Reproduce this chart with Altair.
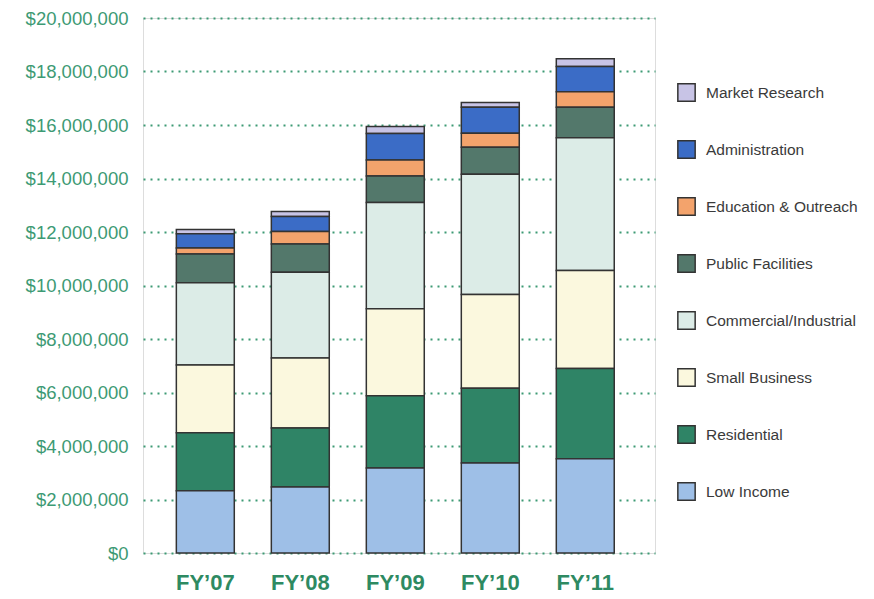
import altair as alt
import pandas as pd

# Fiscal years on the x axis
years = ["FY’07", "FY’08", "FY’09", "FY’10", "FY’11"]

# Program categories, listed top of legend first
categories = [
    "Market Research",
    "Administration",
    "Education & Outreach",
    "Public Facilities",
    "Commercial/Industrial",
    "Small Business",
    "Residential",
    "Low Income",
]

# Spending per category and year, in dollars
market_research = [160000, 190000, 260000, 180000, 290000]
administration = [530000, 560000, 990000, 970000, 950000]
education_outreach = [220000, 470000, 600000, 520000, 580000]
public_facilities = [1080000, 1050000, 990000, 1010000, 1140000]
commercial_industrial = [3070000, 3210000, 3970000, 4500000, 4960000]
small_business = [2530000, 2620000, 3250000, 3500000, 3660000]
residential = [2170000, 2200000, 2700000, 2800000, 3380000]
low_income = [2330000, 2470000, 3180000, 3360000, 3520000]

colors = [
    "#c8c4e6",  # Market Research
    "#3b6cc6",  # Administration
    "#f3a36c",  # Education & Outreach
    "#53786b",  # Public Facilities
    "#dcece7",  # Commercial/Industrial
    "#fbf8de",  # Small Business
    "#2f8466",  # Residential
    "#9ebfe7",  # Low Income
]

series = [
    market_research,
    administration,
    education_outreach,
    public_facilities,
    commercial_industrial,
    small_business,
    residential,
    low_income,
]

rows = []
for rank, (cat, vals) in enumerate(zip(categories, series)):
    for yr, v in zip(years, vals):
        # stack from the bottom: Low Income first
        rows.append({"Year": yr, "Category": cat, "Amount": v,
                     "stack": len(categories) - rank})
df = pd.DataFrame(rows)

green = "#3d9a74"

chart = (
    alt.Chart(df)
    .mark_bar(stroke="#333333", strokeWidth=1.5)
    .encode(
        x=alt.X(
            "Year:N",
            sort=years,
            title=None,
            scale=alt.Scale(paddingInner=0.39, paddingOuter=0.39, align=0.45),
            axis=alt.Axis(
                labelAngle=0,
                labelFont="Liberation Sans",
                labelFontSize=22,
                labelFontWeight="bold",
                labelColor="#2e8a62",
                labelPadding=19,
                ticks=False,
                domain=False,
            ),
        ),
        y=alt.Y(
            "Amount:Q",
            stack="zero",
            title=None,
            scale=alt.Scale(domain=[0, 20000000]),
            axis=alt.Axis(
                values=list(range(0, 20000001, 2000000)),
                format="$,.0f",
                labelFont="Liberation Sans",
                labelFontSize=18.5,
                labelColor=green,
                labelPadding=15,
                ticks=False,
                domain=False,
                grid=True,
                gridColor=green,
                gridDash=[2, 5],
                gridWidth=2,
            ),
        ),
        color=alt.Color(
            "Category:N",
            scale=alt.Scale(domain=categories, range=colors),
            legend=alt.Legend(
                title=None,
                orient="none",
                legendX=534,
                legendY=65,
                symbolType="square",
                symbolSize=300,
                symbolStrokeColor="#333333",
                symbolStrokeWidth=1.5,
                symbolOpacity=1,
                labelFont="Liberation Sans",
                labelFontSize=15.5,
                labelColor="#3a3a3a",
                labelOffset=10,
                rowPadding=32,
            ),
        ),
        order=alt.Order("stack:Q", sort="ascending"),
    )
    .properties(
        width=512,
        height=535,
        padding={"left": 143, "top": 18, "right": 219, "bottom": 46},
        autosize=alt.AutoSizeParams(type="none"),
    )
    .configure_view(stroke=green, strokeDash=[2, 4], strokeWidth=1.8)
    .configure(background="white")
)

chart.save("out.html", embed_options={"renderer": "svg", "actions": False})
